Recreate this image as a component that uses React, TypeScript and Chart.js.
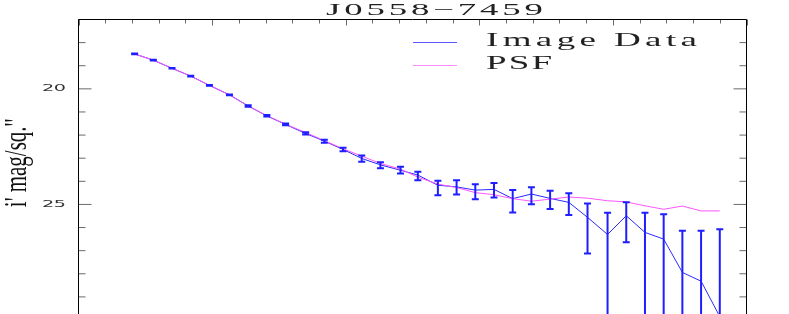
import React, { useEffect, useRef } from "react";
import { Chart, registerables } from "chart.js";

Chart.register(...registerables);

// ---- data ----
const TITLE = "J0558\u22127459";
const Y_LABEL = "i' mag/sq.''";
const SERIES_NAMES = ["Image Data", "PSF"];
const Y_TICK_LABELS = [20, 25];

const RADIUS = [
  0.42, 0.56, 0.7, 0.84, 0.98, 1.13, 1.27, 1.41, 1.55, 1.7, 1.84, 1.98, 2.12, 2.26, 2.41, 2.54,
  2.69, 2.83, 2.97, 3.11, 3.25, 3.39, 3.53, 3.67, 3.81, 3.96, 4.1, 4.24, 4.38, 4.52, 4.66, 4.8,
];
const IMAGE_MAG = [
  18.49, 18.76, 19.11, 19.45, 19.85, 20.26, 20.74, 21.17, 21.54, 21.93, 22.26, 22.62, 23.01, 23.29,
  23.52, 23.73, 24.17, 24.24, 24.38, 24.35, 24.75, 24.55, 24.74, 24.91, 25.56, 26.3, 25.49, 26.21,
  26.5, 27.94, 28.32, 29.85,
];
const IMAGE_ERR_BRIGHT = [
  18.475, 18.745, 19.095, 19.435, 19.835, 20.24, 20.71, 21.13, 21.5, 21.88, 22.2, 22.55, 22.88, 23.17,
  23.37, 23.59, 23.98, 23.95, 24.13, 24.07, 24.38, 24.26, 24.41, 24.52, 24.96, 25.36, 24.91, 25.36,
  25.43, 26.14, 26.14, 26.07,
];
const IMAGE_ERR_FAINT = [
  18.5, 18.775, 19.125, 19.47, 19.87, 20.28, 20.77, 21.2, 21.58, 21.98, 22.33, 22.7, 23.15, 23.44,
  23.66, 23.95, 24.6, 24.57, 24.78, 24.7, 25.35, 24.99, 25.2, 25.46, 27.12, 40, 26.64, 40, 40, 40,
  40, 40,
];
const PSF_MAG = [
  18.49, 18.76, 19.11, 19.45, 19.85, 20.26, 20.74, 21.16, 21.53, 21.89, 22.24, 22.59, 22.91, 23.23,
  23.47, 23.82, 24.12, 24.27, 24.49, 24.58, 24.75, 24.86, 24.77, 24.68, 24.73, 24.84, 24.89, 25.06,
  25.21, 25.07, 25.28, 25.28,
];

const X_MIN = 0;
const X_MAX = 5;
const Y_MIN = 17;
const Y_MAX = 29.74;

const W = 789;
const H = 314;

function drawStretched(
  ctx: CanvasRenderingContext2D,
  text: string,
  x: number,
  y: number,
  font: string,
  sx: number,
  sy: number,
  targetWidth: number | null,
  align: CanvasTextAlign = "left",
  baseline: CanvasTextBaseline = "alphabetic",
  rotate = 0,
  color = "#1a1a1a"
) {
  ctx.save();
  ctx.translate(x, y);
  if (rotate) ctx.rotate(rotate);
  ctx.scale(sx, sy);
  ctx.font = font;
  const anyCtx = ctx as any;
  if ("letterSpacing" in anyCtx) anyCtx.letterSpacing = "0px";
  if (targetWidth && text.length > 1) {
    const w0 = ctx.measureText(text).width;
    const ls = (targetWidth / sx - w0) / (text.length - 1);
    if ("letterSpacing" in anyCtx) anyCtx.letterSpacing = ls + "px";
  }
  ctx.textAlign = align;
  ctx.textBaseline = baseline;
  ctx.fillStyle = color;
  ctx.fillText(text, 0, 0);
  ctx.restore();
}

const decorPlugin = {
  id: "decor",
  afterDatasetsDraw(chart: any) {
    const { ctx, chartArea, scales } = chart;
    const xs = scales.x;
    const ys = scales.y;
    ctx.save();
    ctx.beginPath();
    ctx.rect(chartArea.left, chartArea.top, chartArea.right - chartArea.left, chartArea.bottom - chartArea.top);
    ctx.clip();
    ctx.strokeStyle = "#1e1eff";
    ctx.lineWidth = 2;
    for (let i = 0; i < RADIUS.length; i++) {
      const px = xs.getPixelForValue(RADIUS[i]);
      const yt = ys.getPixelForValue(IMAGE_ERR_BRIGHT[i]);
      const yb = ys.getPixelForValue(IMAGE_ERR_FAINT[i]);
      ctx.beginPath();
      ctx.moveTo(px, yt);
      ctx.lineTo(px, yb);
      ctx.moveTo(px - 3.5, yt);
      ctx.lineTo(px + 3.5, yt);
      ctx.moveTo(px - 3.5, yb);
      ctx.lineTo(px + 3.5, yb);
      ctx.stroke();
    }
    ctx.restore();
  },
  afterDraw(chart: any) {
    const { ctx, chartArea, scales } = chart;
    const xs = scales.x;
    const ys = scales.y;
    const { left, right, top, bottom } = chartArea;
    ctx.save();
    ctx.strokeStyle = "#6a6a6a";
    ctx.lineWidth = 1;
    ctx.beginPath();
    for (let k = 0; k <= 25; k++) {
      const v = X_MIN + k * 0.2;
      const px = Math.round(xs.getPixelForValue(v)) + 0.5;
      const len = k % 5 === 0 ? 6 : 4;
      ctx.moveTo(px, top);
      ctx.lineTo(px, top + len);
    }
    for (let v = Math.ceil(Y_MIN); v <= Y_MAX; v++) {
      const py = ys.getPixelForValue(v);
      const len = v % 5 === 0 ? 13 : 7;
      ctx.moveTo(left, py);
      ctx.lineTo(left + len, py);
      ctx.moveTo(right, py);
      ctx.lineTo(right - len, py);
    }
    ctx.stroke();
    ctx.strokeStyle = "#000";
    ctx.lineWidth = 1;
    ctx.beginPath();
    ctx.moveTo(left, bottom + 2);
    ctx.lineTo(left, top);
    ctx.lineTo(right, top);
    ctx.lineTo(right, bottom + 2);
    ctx.stroke();
    ctx.restore();

    for (const v of Y_TICK_LABELS) {
      const py = ys.getPixelForValue(v);
      drawStretched(ctx, String(v), 53.7, py + 0.5, "8px 'DejaVu Sans'", 2.4, 1, 24, "center", "middle", 0, "#333");
    }
    drawStretched(ctx, Y_LABEL, 26, 163, "21px 'Liberation Serif'", 1, 1.5, null, "center", "alphabetic", -Math.PI / 2, "#111");
    drawStretched(ctx, TITLE, 326, 14.5, "16px 'Liberation Serif'", 2.3, 1, 217, "left", "alphabetic", 0, "#222");
    ctx.save();
    ctx.lineWidth = 1;
    ctx.strokeStyle = "#5a5aff";
    ctx.beginPath();
    ctx.moveTo(413, 42.5);
    ctx.lineTo(457, 42.5);
    ctx.stroke();
    ctx.strokeStyle = "#ff8cff";
    ctx.beginPath();
    ctx.moveTo(413, 65.5);
    ctx.lineTo(457, 65.5);
    ctx.stroke();
    ctx.restore();
    drawStretched(ctx, SERIES_NAMES[0], 486, 46, "18.5px 'Liberation Serif'", 2.0, 1, 211, "left", "alphabetic", 0, "#222");
    drawStretched(ctx, SERIES_NAMES[1], 486, 69, "18.5px 'Liberation Serif'", 2.0, 1, 66, "left", "alphabetic", 0, "#222");
  },
};

export default function App() {
  const ref = useRef<HTMLCanvasElement | null>(null);
  useEffect(() => {
    const canvas = ref.current;
    if (!canvas) return;
    const chart = new Chart(canvas, {
      type: "line",
      data: {
        datasets: [
          {
            label: SERIES_NAMES[1],
            data: RADIUS.map((x, i) => ({ x, y: PSF_MAG[i] })),
            borderColor: "#ff55ff",
            borderWidth: 1,
            pointRadius: 0,
            tension: 0,
            fill: false,
          },
          {
            label: SERIES_NAMES[0],
            data: RADIUS.map((x, i) => ({ x, y: IMAGE_MAG[i] })),
            borderColor: "#2a2aff",
            borderWidth: 1,
            pointRadius: 0,
            tension: 0,
            fill: false,
          },
        ],
      },
      options: {
        animation: false,
        responsive: false,
        devicePixelRatio: 1,
        layout: { padding: { left: 78.5, top: 19.5, right: W - 746.5, bottom: 0 } },
        plugins: {
          legend: { display: false },
          title: { display: false },
          tooltip: { enabled: false },
        },
        events: [],
        scales: {
          x: { type: "linear", min: X_MIN, max: X_MAX, display: false },
          y: { type: "linear", min: Y_MIN, max: Y_MAX, reverse: true, display: false },
        },
      },
      plugins: [decorPlugin],
    });
    return () => chart.destroy();
  }, []);
  return (
    <div style={{ position: "fixed", left: 0, top: 0, width: W, height: H, background: "#fff" }}>
      <canvas ref={ref} width={W} height={H} style={{ display: "block", width: W, height: H }} />
    </div>
  );
}
